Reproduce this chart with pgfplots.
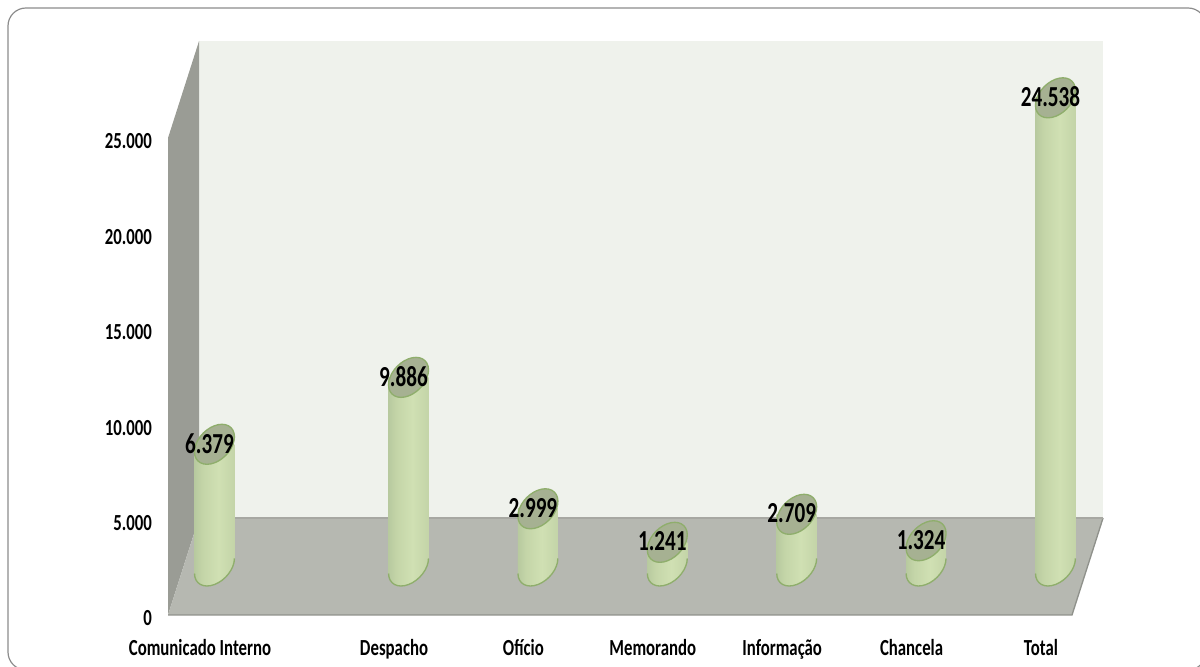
\documentclass[border=0pt]{standalone}
\usepackage{fontspec}
\setmainfont{Carlito}
\usepackage{pgfplots}
\usepackage{pgfplotstable}
\pgfplotsset{compat=1.18}

% 1 px of the reference = 0.75pt
\def\px{0.75pt}
\definecolor{backwall}{HTML}{EFF2EC}
\definecolor{sidewall}{HTML}{9A9C95}
\definecolor{floorgrey}{HTML}{B6B8B1}
\definecolor{flooredge}{HTML}{8F918B}
\definecolor{capfill}{HTML}{A6B192}
\definecolor{capedge}{HTML}{8FAE6C}
\definecolor{frameline}{HTML}{8C8C8C}
\definecolor{cylA}{HTML}{6F8562}
\definecolor{cylB}{HTML}{8FA37D}
\definecolor{cylH}{HTML}{AABD95}
\definecolor{cylC}{HTML}{C4D5A8}
\definecolor{cylD}{HTML}{D0E0B3}
\definecolor{cylE}{HTML}{BFD0A4}
\definecolor{cylF}{HTML}{94A782}
\definecolor{cylG}{HTML}{6E8060}

\pgfdeclarehorizontalshading{cyl}{100bp}{
  color(0bp)=(cylA);
  color(6bp)=(cylB);
  color(14bp)=(cylH);
  color(35bp)=(cylC);
  color(55bp)=(cylD);
  color(82bp)=(cylE);
  color(94bp)=(cylF);
  color(100bp)=(cylG)}

\newcommand{\capshape}{\pgfpathellipse{\pgfpointorigin}{\pgfpoint{13.9pt}{0pt}}{\pgfpoint{5.6pt}{15pt}}}
% lower half of the tilted ellipse, left tangent point to right tangent point
\newcommand{\basecurve}{%
  \pgfpathcurveto{\pgfpoint{-14.97pt}{-13.31pt}}{\pgfpoint{-8.27pt}{-17.01pt}}{\pgfpoint{0pt}{-13.9pt}}%
  \pgfpathcurveto{\pgfpoint{8.27pt}{-10.79pt}}{\pgfpoint{14.97pt}{-2.05pt}}{\pgfpoint{14.97pt}{5.63pt}}}
\pgfdeclareplotmark{captop}{%
  \capshape
  \pgfsetfillcolor{capfill}\pgfsetstrokecolor{capedge}\pgfsetlinewidth{1pt}%
  \pgfusepathqfillstroke}
\pgfdeclareplotmark{capbase}{%
  % floor colour over the square corner of the bar
  \pgfpathmoveto{\pgfpoint{14.97pt}{5.63pt}}%
  \pgfpathlineto{\pgfpoint{15.8pt}{5.63pt}}%
  \pgfpathlineto{\pgfpoint{15.8pt}{-1pt}}%
  \pgfpathlineto{\pgfpoint{13.5pt}{-1pt}}%
  \pgfpathclose
  \pgfsetfillcolor{floorgrey}\pgfusepathqfill
  \pgfpathmoveto{\pgfpoint{-14.97pt}{5.63pt}}%
  \pgfpathlineto{\pgfpoint{-14.97pt}{-5.63pt}}%
  \basecurve
  \pgfpathclose
  \pgfshadepath{cyl}{0}\pgfusepath{discard}%
  \pgfpathmoveto{\pgfpoint{-14.97pt}{-5.63pt}}%
  \basecurve
  \pgfsetstrokecolor{capedge}\pgfsetlinewidth{1pt}%
  \pgfusepathqstroke}

\newcommand{\lab}[1]{\scalebox{0.73}[1]{#1}}

\pgfplotstableread{
x    y
0    6379
1.5  9886
2.5  2999
3.5  1241
4.5  2709
5.5  1324
6.5  24538
}\docs

\pgfplotsset{cylbar/.style={ybar,bar width=30pt,bar shift=0pt,draw=none,shade,shading=cyl}}

\begin{document}
\begin{tikzpicture}[x=\px,y=\px]
\useasboundingbox (0,0) rectangle (1200,667);
\draw[frameline,line width=0.9pt,rounded corners=13.5pt] (8,-3) rectangle (1206,659);

% walls and floor, tick labels on the front plane
\begin{axis}[
  at={(126pt,39pt)},anchor=south west,
  scale only axis,width=904*\px,height=477*\px,
  xmin=-0.247,xmax=6.74,ymin=0,ymax=25000,
  clip=false,
  axis line style={draw=none},
  tick style={draw=none},
  scaled y ticks=false,
  xtick={0,1.5,2.5,3.5,4.5,5.5,6.5},
  xticklabels={\lab{Comunicado Interno},\lab{Despacho},\lab{Ofício},\lab{Memorando},\lab{Informação},\lab{Chancela},\lab{Total}},
  ytick={0,5000,10000,15000,20000,25000},
  yticklabels={\lab{0},\lab{5.000},\lab{10.000},\lab{15.000},\lab{20.000},\lab{25.000}},
  tick label style={font=\fontsize{17.25}{18}\selectfont\bfseries,text=black},
  yticklabel style={yshift=-3.5*\px,xshift=-11.5*\px},
  xticklabel style={yshift=-20*\px},
]
\addplot[fill=backwall,draw=none] coordinates {(-0.007,5084)(6.98,5084)(6.98,30084)(-0.007,30084)} -- cycle;
\addplot[fill=sidewall,draw=none] coordinates {(-0.247,0)(-0.247,25000)(-0.007,30084)(-0.007,5084)} -- cycle;
\addplot[fill=floorgrey,draw=none] coordinates {(-0.247,0)(6.74,0)(6.98,5084)(-0.007,5084)} -- cycle;
\addplot[flooredge,line width=1pt] coordinates {(-0.247,0)(6.74,0)(6.98,5084)};
\addplot[flooredge!40!floorgrey,line width=0.8pt] coordinates {(-0.007,5084)(6.98,5084)};
\end{axis}

% cylinders stand half way back on the floor
\begin{axis}[
  at={(136.875pt,75.75pt)},anchor=south west,
  scale only axis,width=904*\px,height=477*\px,
  xmin=-0.247,xmax=6.74,ymin=0,ymax=25000,
  clip=false,clip mode=individual,hide axis,
]
% one plot per bar, else the shading spans all seven
\addplot[cylbar] coordinates {(0,6379)};
\addplot[cylbar] coordinates {(1.5,9886)};
\addplot[cylbar] coordinates {(2.5,2999)};
\addplot[cylbar] coordinates {(3.5,1241)};
\addplot[cylbar] coordinates {(4.5,2709)};
\addplot[cylbar] coordinates {(5.5,1324)};
\addplot[cylbar] coordinates {(6.5,24538)};
\addplot[only marks,mark=capbase] table[x=x,y expr=0] {\docs};
\addplot[only marks,mark=captop,
  point meta=y,
  nodes near coords={\lab{\pgfmathprintnumber\pgfplotspointmeta}},
  nodes near coords style={anchor=center,xshift=-5*\px,yshift=1*\px,text=black,
    font=\fontsize{21.75}{22}\selectfont\bfseries,
    /pgf/number format/.cd,1000 sep={.},assume math mode=true},
] table[x=x,y=y] {\docs};
\end{axis}
\end{tikzpicture}
\end{document}
